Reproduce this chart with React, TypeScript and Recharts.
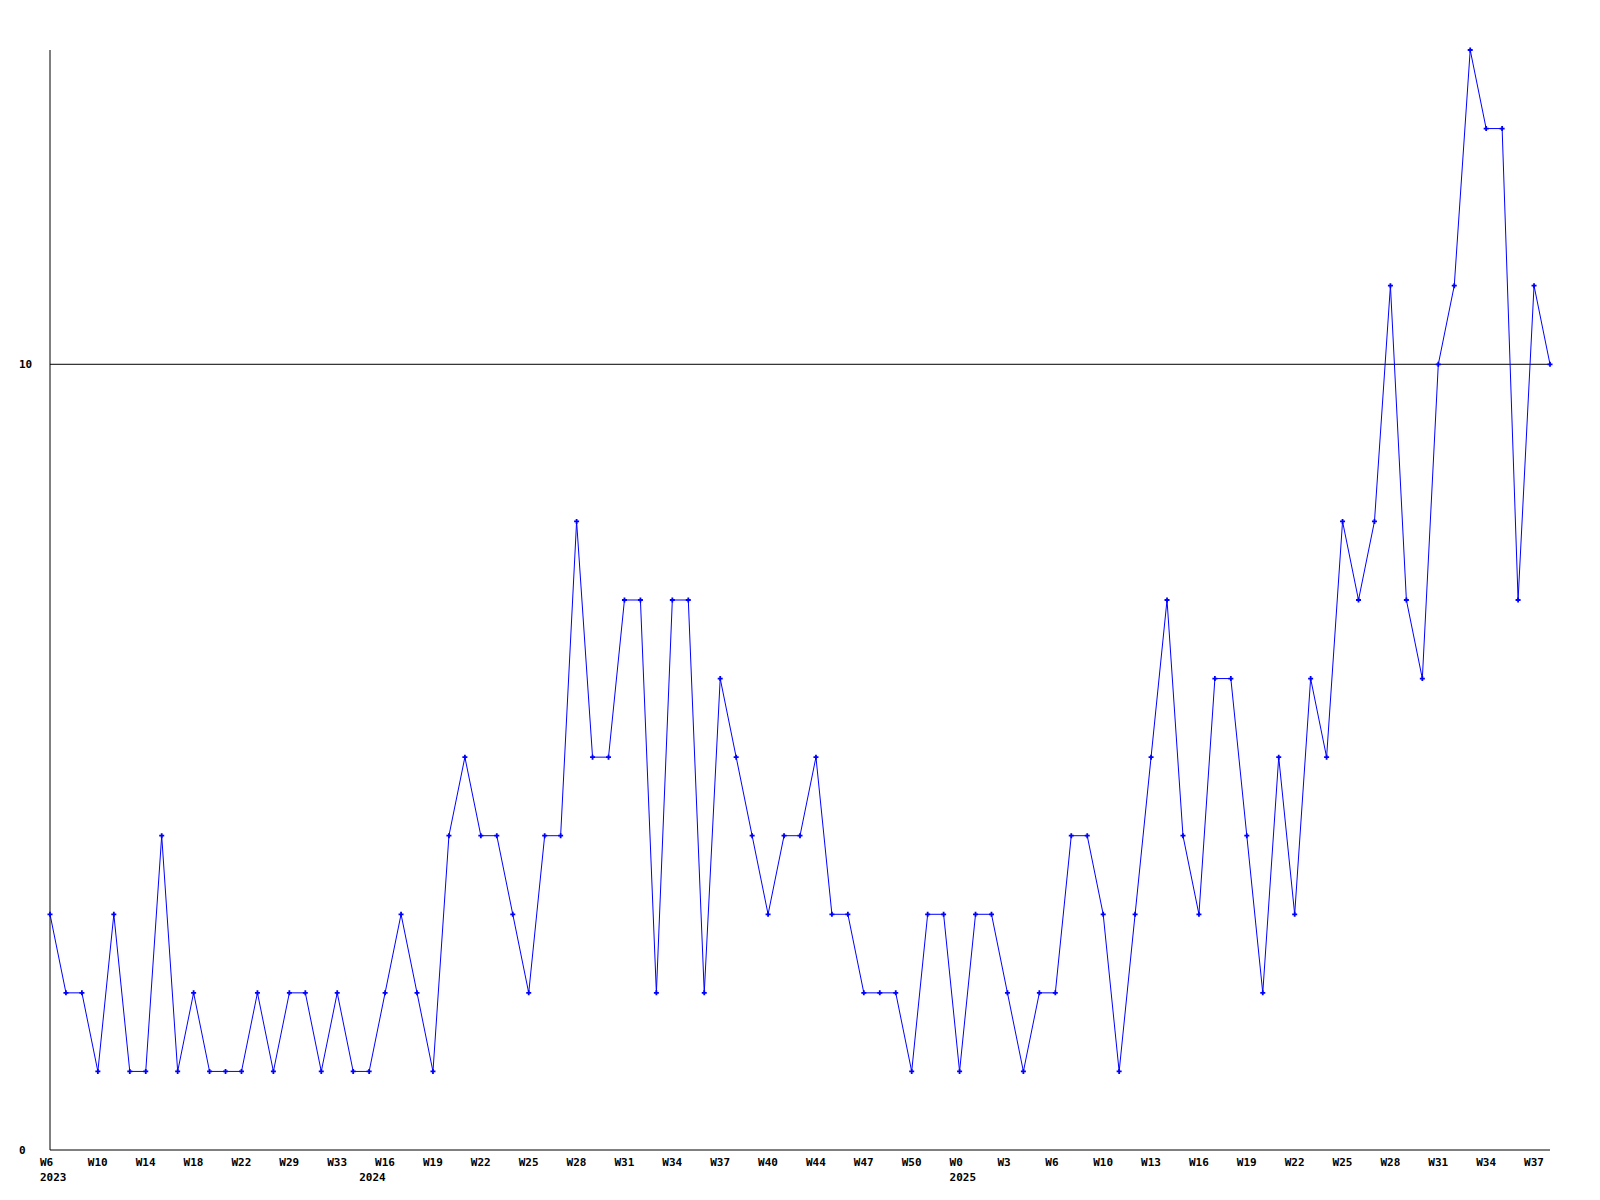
import React from "react";
import { LineChart, Line, XAxis, YAxis, ReferenceLine } from "recharts";

const counts: number[] = [
  3, 2, 2, 1, 3, 1, 1, 4, 1, 2,
  1, 1, 1, 2, 1, 2, 2, 1, 2, 1,
  1, 2, 3, 2, 1, 4, 5, 4, 4, 3,
  2, 4, 4, 8, 5, 5, 7, 7, 2, 7,
  7, 2, 6, 5, 4, 3, 4, 4, 5, 3,
  3, 2, 2, 2, 1, 3, 3, 1, 3, 3,
  2, 1, 2, 2, 4, 4, 3, 1, 3, 5,
  7, 4, 3, 6, 6, 4, 2, 5, 3, 6,
  5, 8, 7, 8, 11, 7, 6, 10, 11, 14,
  13, 13, 7, 11, 10,
];

const weekTickIndex: number[] = [
  0, 3, 6, 9, 12, 15, 18, 21, 24, 27, 30, 33, 36, 39, 42, 45,
  48, 51, 54, 57, 60, 63, 66, 69, 72, 75, 78, 81, 84, 87, 90, 93,
];
const weekTickLabels: string[] = [
  "W6", "W10", "W14", "W18", "W22", "W29", "W33", "W16", "W19", "W22", "W25",
  "W28", "W31", "W34", "W37", "W40", "W44", "W47", "W50", "W0", "W3", "W6",
  "W10", "W13", "W16", "W19", "W22", "W25", "W28", "W31", "W34", "W37",
];
const yearTickIndex: number[] = [0, 20, 57];
const yearTickLabels: string[] = ["2023", "2024", "2025"];
const yTicks: number[] = [0, 10];

const data = counts.map((v, i) => ({ i, v }));

const FONT = "'DejaVu Sans Mono', monospace";

const WeekTick = (props: any) => {
  const { x, y, payload } = props;
  const k = weekTickIndex.indexOf(payload.value);
  return (
    <text x={x - 10} y={y + 16} textAnchor="start" fontFamily={FONT} fontWeight="bold" fontSize={11} fill="#000">
      {k >= 0 ? weekTickLabels[k] : ""}
    </text>
  );
};

const YearTick = (props: any) => {
  const { x, y, payload } = props;
  const k = yearTickIndex.indexOf(payload.value);
  return (
    <text x={x - 10} y={y + 11} textAnchor="start" fontFamily={FONT} fontWeight="bold" fontSize={11} fill="#000">
      {k >= 0 ? yearTickLabels[k] : ""}
    </text>
  );
};

const YTick = (props: any) => {
  const { y, payload } = props;
  return (
    <text x={19} y={y + 4} textAnchor="start" fontFamily={FONT} fontWeight="bold" fontSize={11} fill="#000">
      {payload.value}
    </text>
  );
};

const PlusDot = (props: any) => {
  const { cx, cy } = props;
  if (cx == null || cy == null) return null;
  return (
    <path
      d={`M${cx - 2.5},${cy}H${cx + 2.5}M${cx},${cy - 2.5}V${cy + 2.5}`}
      stroke="#0000ff"
      strokeWidth={1.8}
      fill="none"
    />
  );
};

export default function App() {
  return (
    <div style={{ position: "absolute", left: 0, top: 0, width: 1600, height: 1200, background: "#fff" }}>
      <LineChart width={1600} height={1200} data={data} margin={{ top: 50, right: 50, bottom: 0, left: 0 }}>
        <XAxis
          xAxisId="w"
          dataKey="i"
          type="number"
          domain={[0, 94]}
          ticks={weekTickIndex}
          tick={<WeekTick />}
          tickLine={false}
          tickSize={0}
          tickMargin={0}
          axisLine={{ stroke: "#000", strokeWidth: 1 }}
          height={20}
          interval={0}
        />
        <XAxis
          xAxisId="y"
          dataKey="i"
          type="number"
          domain={[0, 94]}
          ticks={yearTickIndex}
          tick={<YearTick />}
          tickLine={false}
          tickSize={0}
          tickMargin={0}
          axisLine={false}
          height={30}
          interval={0}
        />
        <YAxis
          domain={[0, 14]}
          ticks={yTicks}
          tick={<YTick />}
          tickLine={false}
          axisLine={{ stroke: "#000", strokeWidth: 1 }}
          width={50}
          interval={0}
        />
        <ReferenceLine xAxisId="w" y={10} stroke="#000" strokeWidth={1} />
        <Line
          xAxisId="w"
          type="linear"
          dataKey="v"
          stroke="#0000ff"
          strokeWidth={1}
          dot={<PlusDot />}
          activeDot={false}
          isAnimationActive={false}
        />
      </LineChart>
    </div>
  );
}
